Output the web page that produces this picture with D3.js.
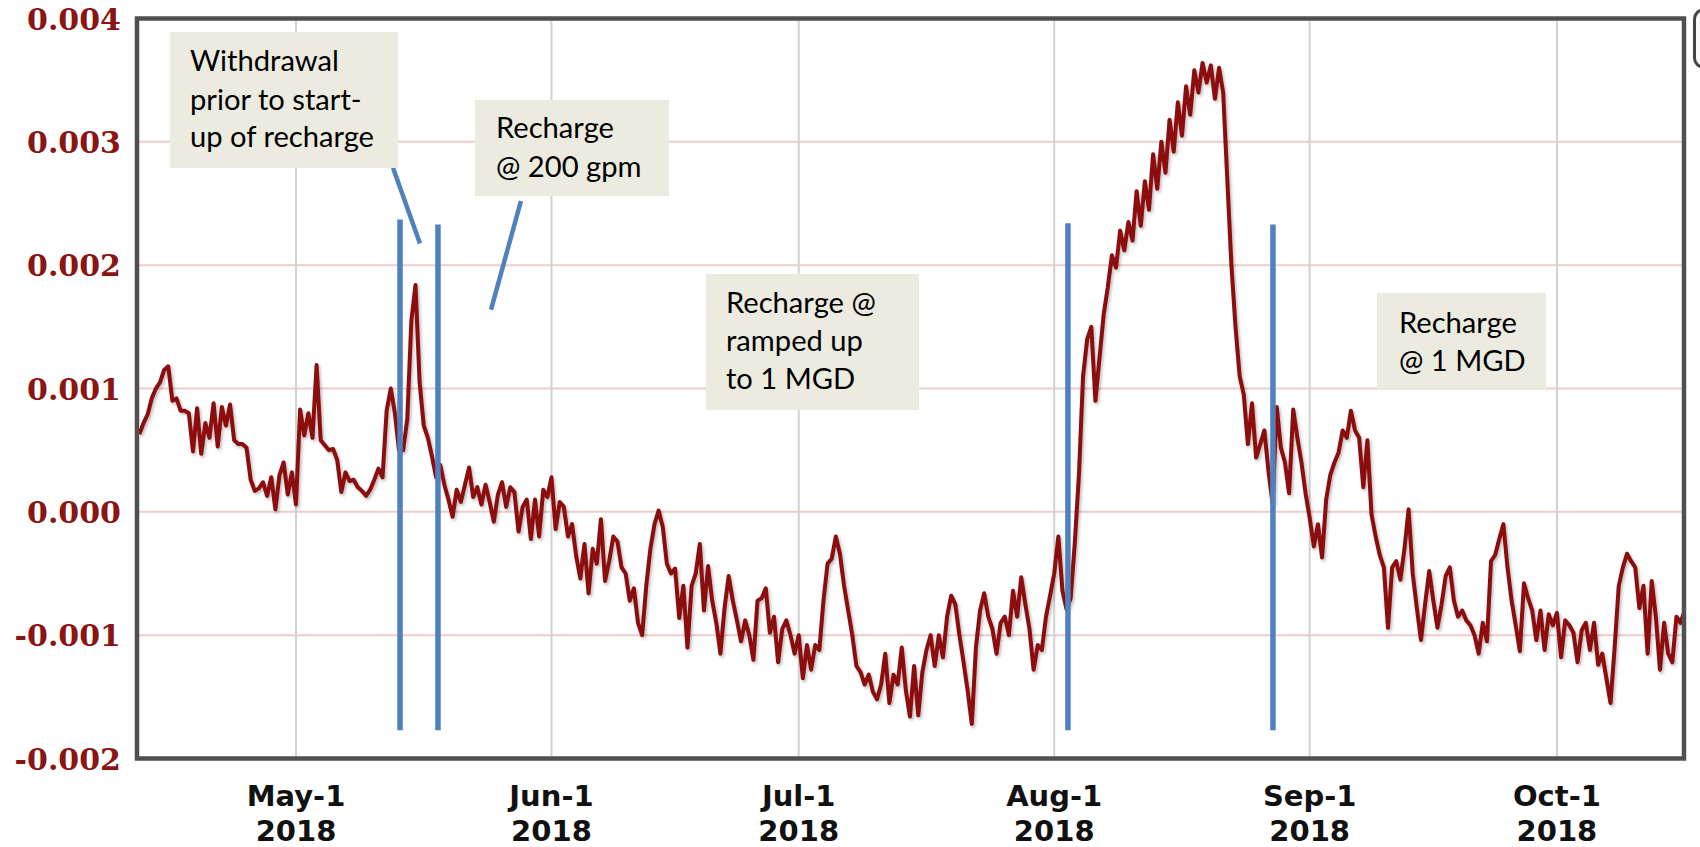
<!DOCTYPE html>
<html>
<head>
<meta charset="utf-8">
<script src="https://cdn.jsdelivr.net/npm/d3@7"></script>
<style>
  html, body { margin: 0; padding: 0; background: #ffffff; }
  svg { display: block; }
</style>
</head>
<body>
<svg id="chart" width="1700" height="847"></svg>
<script>
// ---------------- DATA (12-hourly readings) ----------------
const aprilStart = "2018-04-12T00:00:00Z";
const aprilValues = [0.00063, 0.00072, 0.00079, 0.00092, 0.00100, 0.00105, 0.00115, 0.00118, 0.00090, 0.00092,
  0.00082, 0.00082, 0.00080, 0.00049, 0.00084, 0.00047, 0.00072, 0.00060, 0.00088, 0.00053,
  0.00085, 0.00070, 0.00087, 0.00058, 0.00055, 0.00055, 0.00052, 0.00026, 0.00017, 0.00019,
  0.00024, 0.00013, 0.00028, 0.00002, 0.00030, 0.00040, 0.00014, 0.00032];

const mayStart = "2018-05-01T00:00:00Z";
const mayValues = [0.00006, 0.00083, 0.00062, 0.00080, 0.00060, 0.00119, 0.00058, 0.00054, 0.00050, 0.00051,
  0.00042, 0.00016, 0.00032, 0.00025, 0.00026, 0.00020, 0.00017, 0.00013, 0.00018, 0.00026,
  0.00035, 0.00028, 0.00082, 0.00100, 0.00080, 0.00050, 0.00050, 0.00075, 0.00155, 0.00184,
  0.00105, 0.00070, 0.00060, 0.00045, 0.00028, 0.00038, 0.00022, 0.00010, -0.00004, 0.00018,
  0.00008, 0.00022, 0.00036, 0.00012, 0.00020, 0.00006, 0.00022, 0.00008, -0.00008, 0.00014,
  0.00024, 0.00004, 0.00020, 0.00016, -0.00016, 0.00004, 0.00010, -0.00022, 0.00010, -0.00020,
  0.00018, 0.00012];

const juneStart = "2018-06-01T00:00:00Z";
const juneValues = [0.00028, -0.00014, 0.00008, 0.00004, -0.00020, -0.00010, -0.00036, -0.00054, -0.00026, -0.00066,
  -0.00030, -0.00042, -0.00006, -0.00056, -0.00040, -0.00020, -0.00024, -0.00045, -0.00050, -0.00072,
  -0.00062, -0.00090, -0.00100, -0.00060, -0.00030, -0.00010, 0.00001, -0.00012, -0.00042, -0.00050,
  -0.00046, -0.00086, -0.00060, -0.00110, -0.00060, -0.00050, -0.00026, -0.00080, -0.00044, -0.00072,
  -0.00090, -0.00115, -0.00078, -0.00052, -0.00072, -0.00088, -0.00105, -0.00088, -0.00100, -0.00120,
  -0.00072, -0.00070, -0.00062, -0.00098, -0.00085, -0.00122, -0.00095, -0.00088, -0.00100, -0.00115];

const julyStart = "2018-07-01T00:00:00Z";
const julyValues = [-0.00100, -0.00135, -0.00108, -0.00128, -0.00108, -0.00112, -0.00072, -0.00042, -0.00038, -0.00020,
  -0.00034, -0.00060, -0.00080, -0.00100, -0.00125, -0.00130, -0.00140, -0.00132, -0.00146, -0.00152,
  -0.00140, -0.00115, -0.00155, -0.00132, -0.00140, -0.00110, -0.00145, -0.00166, -0.00125, -0.00165,
  -0.00130, -0.00112, -0.00100, -0.00125, -0.00100, -0.00118, -0.00085, -0.00068, -0.00075, -0.00100,
  -0.00122, -0.00145, -0.00172, -0.00110, -0.00080, -0.00066, -0.00085, -0.00095, -0.00115, -0.00090,
  -0.00085, -0.00100, -0.00064, -0.00085, -0.00053, -0.00075, -0.00095, -0.00128, -0.00108, -0.00112,
  -0.00085, -0.00068];

const augustStart = "2018-08-01T00:00:00Z";
const augustValues = [-0.00050, -0.00020, -0.00064, -0.00079, -0.00070, -0.00025, 0.00030, 0.00110, 0.00140, 0.00150,
  0.00090, 0.00125, 0.00160, 0.00182, 0.00208, 0.00198, 0.00228, 0.00212, 0.00235, 0.00220,
  0.00260, 0.00232, 0.00268, 0.00245, 0.00290, 0.00262, 0.00300, 0.00275, 0.00318, 0.00292,
  0.00332, 0.00305, 0.00345, 0.00322, 0.00358, 0.00340, 0.00364, 0.00348, 0.00362, 0.00335,
  0.00360, 0.00340, 0.00270, 0.00200, 0.00150, 0.00110, 0.00095, 0.00055, 0.00088, 0.00044,
  0.00055, 0.00066, 0.00033, 0.00007, 0.00085, 0.00052, 0.00040, 0.00015, 0.00083, 0.00060,
  0.00040, 0.00015];

const septemberStart = "2018-09-01T00:00:00Z";
const septemberValues = [-0.00005, -0.00028, -0.00010, -0.00037, 0.00010, 0.00030, 0.00040, 0.00048, 0.00066, 0.00060,
  0.00082, 0.00066, 0.00060, 0.00020, 0.00058, -0.00002, -0.00020, -0.00035, -0.00045, -0.00094,
  -0.00045, -0.00040, -0.00055, -0.00030, 0.00002, -0.00050, -0.00078, -0.00104, -0.00075, -0.00048,
  -0.00072, -0.00094, -0.00075, -0.00052, -0.00045, -0.00072, -0.00085, -0.00080, -0.00088, -0.00092,
  -0.00100, -0.00115, -0.00090, -0.00105, -0.00040, -0.00035, -0.00022, -0.00010, -0.00045, -0.00072,
  -0.00092, -0.00113, -0.00058, -0.00070, -0.00080, -0.00104, -0.00080, -0.00112, -0.00083, -0.00092];

const octoberStart = "2018-10-01T00:00:00Z";
const octoberValues = [-0.00082, -0.00118, -0.00088, -0.00092, -0.00098, -0.00122, -0.00096, -0.00090, -0.00112, -0.00090,
  -0.00124, -0.00115, -0.00135, -0.00155, -0.00110, -0.00060, -0.00045, -0.00034, -0.00040, -0.00045,
  -0.00078, -0.00060, -0.00115, -0.00056, -0.00085, -0.00128, -0.00090, -0.00115, -0.00122, -0.00085,
  -0.00090, -0.00080];

const monthStarts = [aprilStart, mayStart, juneStart, julyStart, augustStart, septemberStart, octoberStart];
const monthValues = [aprilValues, mayValues, juneValues, julyValues, augustValues, septemberValues, octoberValues];

const xDomain = ["2018-04-11T17:00:00Z", "2018-10-16T10:00:00Z"];
const yDomain = [-0.002, 0.004];

const xTickDates = ["2018-05-01", "2018-06-01", "2018-07-01", "2018-08-01", "2018-09-01", "2018-10-01"];
const xTickLine1 = ["May-1", "Jun-1", "Jul-1", "Aug-1", "Sep-1", "Oct-1"];
const xTickLine2 = ["2018", "2018", "2018", "2018", "2018", "2018"];

const yTickValues = [-0.002, -0.001, 0, 0.001, 0.002, 0.003, 0.004];
const yTickLabels = ["-0.002", "-0.001", "0.000", "0.001", "0.002", "0.003", "0.004"];

// event markers (blue vertical lines)
const eventDates = ["2018-05-13T15:00:00Z", "2018-05-18T05:30:00Z", "2018-08-02T16:00:00Z", "2018-08-27T13:00:00Z"];
const eventTops = [0.00237, 0.00233, 0.00234, 0.00233];
const eventBottoms = [-0.00177, -0.00177, -0.00177, -0.00177];

// pointer lines from callouts
const pointerFromDates = ["2018-05-12T18:30:00Z", "2018-05-28T07:00:00Z"];
const pointerFromValues = [0.00279, 0.00252];
const pointerToDates = ["2018-05-16T01:00:00Z", "2018-05-24T16:00:00Z"];
const pointerToValues = [0.002175, 0.00164];

const calloutTexts = [
  ["Withdrawal", "prior to start-", "up of recharge"],
  ["Recharge", "@ 200 gpm"],
  ["Recharge @", "ramped up", "to 1 MGD"],
  ["Recharge", "@ 1 MGD"]
];

// ---------------- LAYOUT ----------------
const plot = { left: 137, right: 1684, top: 18.5, bottom: 758.5 };
const calloutBoxes = [
  { x: 170, y: 32, w: 228, h: 136, tx: 190, base: [71, 110, 147] },
  { x: 475, y: 100, w: 194, h: 96, tx: 496, base: [138, 177] },
  { x: 706, y: 274, w: 213, h: 136, tx: 726, base: [313, 351, 389] },
  { x: 1377, y: 293, w: 169, h: 96, tx: 1399, base: [333, 371] }
];

const svg = d3.select("#chart");
const defs = svg.append("defs");
defs.append("clipPath").attr("id", "plotClip").append("rect")
  .attr("x", plot.left).attr("y", plot.top)
  .attr("width", plot.right - plot.left).attr("height", plot.bottom - plot.top);
const shadow = defs.append("filter").attr("id", "lineShadow")
  .attr("x", "-5%").attr("y", "-5%").attr("width", "110%").attr("height", "110%");
shadow.append("feDropShadow").attr("dx", 1.5).attr("dy", 2).attr("stdDeviation", 1.4)
  .attr("flood-color", "#000").attr("flood-opacity", 0.28);

svg.append("rect").attr("width", 1700).attr("height", 847).attr("fill", "#ffffff");

const x = d3.scaleUtc().domain(xDomain.map(d => new Date(d))).range([plot.left, plot.right]);
const y = d3.scaleLinear().domain(yDomain).range([plot.bottom, plot.top]);

// build series
const series = [];
monthStarts.forEach((s, mi) => {
  const t0 = new Date(s).getTime();
  monthValues[mi].forEach((v, i) => {
    series.push({ date: new Date(t0 + i * 12 * 3600 * 1000), value: v });
  });
});

// grid
const grid = svg.append("g");
grid.selectAll("line.h").data(yTickValues).join("line")
  .attr("x1", plot.left).attr("x2", plot.right)
  .attr("y1", d => y(d)).attr("y2", d => y(d))
  .attr("stroke", "#edcccc").attr("stroke-width", 2);
grid.selectAll("line.v").data(xTickDates).join("line")
  .attr("x1", d => x(new Date(d + "T00:00:00Z"))).attr("x2", d => x(new Date(d + "T00:00:00Z")))
  .attr("y1", plot.top).attr("y2", plot.bottom)
  .attr("stroke", "#d2d2d2").attr("stroke-width", 2);

// data line
svg.append("g").attr("clip-path", "url(#plotClip)")
  .append("path").datum(series)
  .attr("d", d3.line().x(d => x(d.date)).y(d => y(d.value)))
  .attr("fill", "none").attr("stroke", "#8b0b0b").attr("stroke-width", 4)
  .attr("stroke-linejoin", "round").attr("filter", "url(#lineShadow)");

// event lines
svg.append("g").selectAll("line").data(eventDates).join("line")
  .attr("x1", d => x(new Date(d))).attr("x2", d => x(new Date(d)))
  .attr("y1", (d, i) => y(eventTops[i])).attr("y2", (d, i) => y(eventBottoms[i]))
  .attr("stroke", "#4f81bd").attr("stroke-width", 5.5);

// frame
svg.append("rect").attr("x", plot.left).attr("y", plot.top)
  .attr("width", plot.right - plot.left).attr("height", plot.bottom - plot.top)
  .attr("fill", "none").attr("stroke", "#505050").attr("stroke-width", 4.5);

// y axis labels
const yAxis = d3.axisLeft(y).tickValues(yTickValues)
  .tickFormat((d, i) => yTickLabels[i]).tickSize(0).tickPadding(0);
const yg = svg.append("g").attr("transform", `translate(121,0)`).call(yAxis);
yg.select(".domain").remove();
yg.selectAll("text").attr("font-family", "'DejaVu Serif', serif").attr("font-weight", "bold")
  .attr("font-size", 30).attr("fill", "#8b1515").attr("dy", "0.36em").attr("x", 0);

// x axis labels
const xg = svg.append("g");
xTickDates.forEach((d, i) => {
  const px = x(new Date(d + "T00:00:00Z"));
  const t = xg.append("text").attr("text-anchor", "middle")
    .attr("font-family", "'DejaVu Sans', sans-serif").attr("font-weight", "bold")
    .attr("font-size", 29).attr("fill", "#111");
  t.append("tspan").attr("x", px).attr("y", 806).text(xTickLine1[i]);
  t.append("tspan").attr("x", px).attr("y", 841).text(xTickLine2[i]);
});

// pointer lines
svg.append("g").selectAll("line").data(pointerFromDates).join("line")
  .attr("x1", d => x(new Date(d))).attr("y1", (d, i) => y(pointerFromValues[i]))
  .attr("x2", (d, i) => x(new Date(pointerToDates[i]))).attr("y2", (d, i) => y(pointerToValues[i]))
  .attr("stroke", "#4f81bd").attr("stroke-width", 4.5);

// callouts
const cg = svg.append("g");
const probe = cg.append("text").attr("font-family", "Lato, 'Open Sans', sans-serif")
  .attr("font-size", 30).text("Withdrawal");
const w30 = probe.node().getComputedTextLength();
probe.remove();
const calloutSize = Math.max(24, Math.min(32, 30 * 149 / (w30 || 149)));

calloutBoxes.forEach((b, i) => {
  cg.append("rect").attr("x", b.x).attr("y", b.y).attr("width", b.w).attr("height", b.h)
    .attr("fill", "#ecebe0");
  calloutTexts[i].forEach((line, j) => {
    cg.append("text").attr("x", b.tx).attr("y", b.base[j])
      .attr("font-family", "Lato, 'Open Sans', sans-serif").attr("font-size", calloutSize)
      .attr("fill", "#000").text(line);
  });
});

// partial control at top-right edge
svg.append("rect").attr("x", 1694.5).attr("y", 10).attr("width", 30).attr("height", 57).attr("rx", 9)
  .attr("fill", "#fafafa").attr("stroke", "#444").attr("stroke-width", 3);
</script>
</body>
</html>
